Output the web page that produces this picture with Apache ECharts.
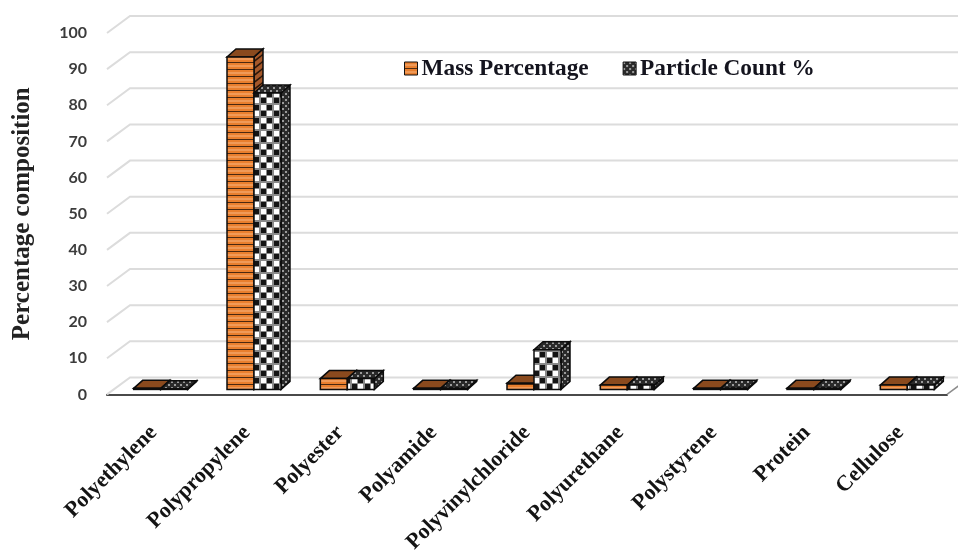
<!DOCTYPE html>
<html>
<head>
<meta charset="utf-8">
<style>html,body{margin:0;padding:0;background:#fff}#chart{width:958px;height:556px}</style>
<script src="https://cdn.jsdelivr.net/npm/echarts@6/dist/echarts.min.js"></script>
</head>
<body>
<div id="chart"></div>
<script>
const categories = ['Polyethylene','Polypropylene','Polyester','Polyamide','Polyvinylchloride','Polyurethane','Polystyrene','Protein','Cellulose'];
const massPercentage = [0.3, 92, 3, 0.3, 1.7, 1.2, 0.3, 0.3, 1.2];
const particleCount = [0.2, 82, 3, 0.3, 11, 1.2, 0.3, 0.3, 1.2];
const gridTicks = [0,10,20,30,40,50,60,70,80,90,100];

// Depth of the chart box and of each bar, in pixels
const WALL_DX = 23, WALL_DY = -17;
const BAR_W = 27, BAR_DX = 9, BAR_DY = -8, BAR_INSET_X = 7, BAR_INSET_Y = -5;

function tile(w, h, draw) {
  const c = document.createElement('canvas');
  c.width = w; c.height = h;
  draw(c.getContext('2d'));
  return { image: c, repeat: 'repeat' };
}
const stripeFront = tile(8, 7, g => {
  g.fillStyle = '#e97f2e'; g.fillRect(0,0,8,7);
  g.fillStyle = '#f09a58'; g.fillRect(0,2,8,2);
  g.fillStyle = '#4a2810'; g.fillRect(0,6,8,1);
});
const stripeSide = tile(9, 7, g => {
  g.fillStyle = '#a5582a'; g.fillRect(0,0,9,7);
  g.strokeStyle = '#2b1608'; g.lineWidth = 1.6;
  for (let k = -7; k <= 14; k += 7) { g.beginPath(); g.moveTo(0,k+7); g.lineTo(9,k); g.stroke(); }
});
const dotFront = tile(13, 13, g => {
  g.fillStyle = '#8a8a8a'; g.fillRect(0,0,13,13);
  g.fillStyle = '#ffffff'; g.fillRect(1,1,5,5); g.fillRect(7,7,5,5);
  g.fillStyle = '#141414'; g.fillRect(7,1,5,5); g.fillRect(1,7,5,5);
});
const dotShade = tile(6, 6, g => {
  g.fillStyle = '#2a2a2a'; g.fillRect(0,0,6,6);
  g.fillStyle = '#9a9a9a'; g.fillRect(0,0,2,2); g.fillRect(3,3,2,2);
});

const poly = (points, fill) => ({
  type: 'polygon',
  shape: { points },
  style: { fill, stroke: '#0c0c0c', lineWidth: 1.5 }
});

// One bar: front face, top face and right side, sitting a little behind the front floor edge
function barRenderer(side, fronts) {
  return function (params, api) {
    const i = api.value(0);
    const base = api.coord([i, 0]);
    const top = api.coord([i, api.value(1)]);
    const x0 = base[0] + BAR_INSET_X + (side === 0 ? -BAR_W : 0);
    const x1 = x0 + BAR_W;
    const yb = base[1] + BAR_INSET_Y;
    const yt = top[1] + BAR_INSET_Y;
    return {
      type: 'group',
      children: [
        poly([[x1,yb],[x1+BAR_DX,yb+BAR_DY],[x1+BAR_DX,yt+BAR_DY],[x1,yt]], fronts.side),
        poly([[x0,yt],[x1,yt],[x1+BAR_DX,yt+BAR_DY],[x0+BAR_DX,yt+BAR_DY]], fronts.top),
        poly([[x0,yb],[x1,yb],[x1,yt],[x0,yt]], fronts.front)
      ]
    };
  };
}

// Back wall and left wall rules for every value tick
function wallRenderer(params, api) {
  const v = api.value(0);
  const cs = params.coordSys;
  const y = api.coord([0, v])[1];
  const x = cs.x;
  const right = cs.x + cs.width;
  const rule = {
    type: 'polyline',
    shape: { points: [[x,y],[x+WALL_DX,y+WALL_DY],[right+WALL_DX,y+WALL_DY]] },
    style: { fill: null, stroke: '#dcdcdc', lineWidth: 2 }
  };
  if (v !== 0) return rule;
  return {
    type: 'group',
    children: [
      rule,
      { type: 'line', shape: { x1: right, y1: y, x2: right+WALL_DX, y2: y+WALL_DY }, style: { stroke: '#8c8c8c', lineWidth: 1.5 } }
    ]
  };
}

const chart = echarts.init(document.getElementById('chart'), null, { renderer: 'canvas' });
chart.setOption({
  animation: false,
  backgroundColor: '#ffffff',
  grid: { left: 107, right: 11, top: 33, bottom: 161, containLabel: false },
  legend: {
    left: 399, top: 52,
    itemWidth: 13, itemHeight: 13, itemGap: 34,
    icon: 'rect',
    itemStyle: { borderColor: '#111', borderWidth: 1 },
    textStyle: { fontFamily: 'Liberation Serif', fontWeight: 'bold', fontSize: 23.3, color: '#14141e', padding: [0,0,0,-1] },
    data: ['Mass Percentage', 'Particle Count %']
  },
  xAxis: {
    type: 'category',
    data: categories,
    axisTick: { show: false },
    axisLine: { lineStyle: { color: '#4a4a4a', width: 2 } },
    axisLabel: {
      interval: 0, rotate: 45, margin: 35,
      fontFamily: 'Liberation Serif', fontWeight: 'bold', fontSize: 22, color: '#141414'
    }
  },
  yAxis: {
    type: 'value', min: 0, max: 100, interval: 10,
    name: 'Percentage composition',
    nameLocation: 'middle', nameGap: 72, nameRotate: 90,
    nameTextStyle: { fontFamily: 'Liberation Serif', fontWeight: 'bold', fontSize: 25, color: '#222' },
    axisLine: { show: false }, axisTick: { show: false }, splitLine: { show: false },
    axisLabel: { margin: 20, fontFamily: 'Lato', fontWeight: 'bold', fontSize: 16, color: '#3c3c3c' }
  },
  series: [
    {
      type: 'custom', name: 'walls', silent: true, z: 1,
      coordinateSystem: 'cartesian2d', clip: false,
      encode: { x: 1, y: 0 },
      renderItem: wallRenderer,
      data: gridTicks.map(t => [t, 0])
    },
    {
      type: 'custom', name: 'Mass Percentage', z: 2,
      itemStyle: { color: stripeFront },
      renderItem: barRenderer(0, { front: stripeFront, side: stripeSide, top: '#8a4a1e' }),
      encode: { x: 0, y: 1 },
      data: massPercentage.map((v, i) => [i, v])
    },
    {
      type: 'custom', name: 'Particle Count %', z: 3,
      itemStyle: { color: dotShade },
      renderItem: barRenderer(1, { front: dotFront, side: dotShade, top: dotShade }),
      encode: { x: 0, y: 1 },
      data: particleCount.map((v, i) => [i, v])
    }
  ]
});
</script>
</body>
</html>
